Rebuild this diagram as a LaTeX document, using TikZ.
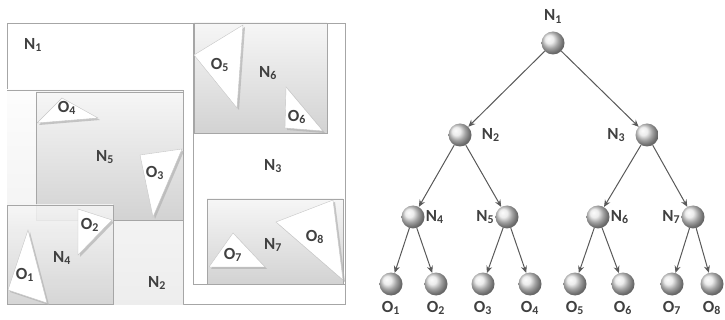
\documentclass[tikz,border=0pt]{standalone}
\usepackage{fontspec}
\setmainfont{Carlito}
\usetikzlibrary{arrows.meta,shadows}
\newcommand{\Rad}{11.5pt}
\newcommand{\Sub}[2]{#1\textsubscript{#2}}
\tikzset{
  Ball/.style={circle, minimum size=2*\Rad, inner sep=0pt, ball color=gray!20},
  Box/.style={draw=gray!70, line width=0.8pt, top color=gray!7, bottom color=gray!35},
  Tri/.style={fill=white, draw=gray!45, line width=0.4pt,
    drop shadow={shadow xshift=2pt, shadow yshift=-2pt, fill=gray!60, opacity=0.7}},
  Lbl/.style={font=\fontsize{17}{19}\bfseries, text=black!75, inner sep=0pt},
  Edge/.style={-{Stealth[length=7pt,width=6pt]}, draw=black!65, line width=1pt},
}
\begin{document}
\begin{tikzpicture}[x=1pt,y=-1pt]
  \useasboundingbox (0,0) rectangle (725,320);
  % space partition
  \draw[gray!70, line width=0.8pt] (7,23) rectangle (345,304);
  \fill[top color=gray!2, bottom color=gray!14] (7,90) rectangle (183,304);
  \draw[gray!70, line width=0.8pt] (7,90) -- (183,90) -- (183,304);
  \draw[gray!70, line width=0.8pt] (193,23) -- (193,284) -- (345,284);
  \draw[Box] (36,92) rectangle (183,220);
  \draw[Box, fill opacity=0.85] (7,205) rectangle (113,304);
  \draw[Box] (194,23) rectangle (327,133);
  \draw[Box] (207,199) rectangle (343,284);
  \draw[Tri] (37,123) -- (62,98) -- (98,118) -- cycle;
  \draw[Tri] (140,155) -- (182,149) -- (153,217) -- cycle;
  \draw[Tri] (194,55) -- (243,25) -- (237,108) -- cycle;
  \draw[Tri] (286,87) -- (285,128) -- (323,131) -- cycle;
  \draw[Tri] (276,222) -- (333,200) -- (343,280) -- cycle;
  \draw[Tri] (209,267) -- (233,233) -- (265,267) -- cycle;
  \draw[Tri] (78,209) -- (112,220) -- (78,255) -- cycle;
  \draw[Tri] (28,230) -- (8,290) -- (47,303) -- cycle;
  \node[Lbl] (rN1) at (33,45)   {\Sub N1};
  \node[Lbl] (rN2) at (157,283) {\Sub N2};
  \node[Lbl] (rN3) at (273,166) {\Sub N3};
  \node[Lbl] (rN4) at (62,258)  {\Sub N4};
  \node[Lbl] (rN5) at (105,157) {\Sub N5};
  \node[Lbl] (rN6) at (268,73)  {\Sub N6};
  \node[Lbl] (rN7) at (273,245) {\Sub N7};
  \node[Lbl] (rO1) at (25,275)  {\Sub O1};
  \node[Lbl] (rO2) at (90,225)  {\Sub O2};
  \node[Lbl] (rO3) at (155,173) {\Sub O3};
  \node[Lbl] (rO4) at (67,108)  {\Sub O4};
  \node[Lbl] (rO5) at (220,65)  {\Sub O5};
  \node[Lbl] (rO6) at (297,117) {\Sub O6};
  \node[Lbl] (rO7) at (233,255) {\Sub O7};
  \node[Lbl] (rO8) at (315,237) {\Sub O8};
  % tree
  \node[Ball, label={[Lbl,label distance=8pt]above:\Sub N1}] (n1) at (553,43) {};
  \node[Ball, label={[Lbl,label distance=10pt]right:\Sub N2}] (n2) at (460,135) {};
  \node[Ball, label={[Lbl,label distance=10pt]left:\Sub N3}] (n3) at (647,135) {};
  \node[Ball, label={[Lbl,label distance=1pt]right:\Sub N4}] (n4) at (413,217) {};
  \node[Ball, label={[Lbl,label distance=1pt]left:\Sub N5}] (n5) at (507,217) {};
  \node[Ball, label={[Lbl,label distance=1pt]right:\Sub N6}] (n6) at (598,217) {};
  \node[Ball, label={[Lbl,label distance=1pt]left:\Sub N7}] (n7) at (693,217) {};
  \foreach \i/\x in {1/391,2/436,3/483,4/530,5/575,6/623,7/672,8/712}
    \node[Ball, label={[Lbl,label distance=5pt]below:\Sub O\i}] (o\i) at (\x,284) {};
  \foreach \a/\b in {n1/n2,n1/n3,n2/n4,n2/n5,n3/n6,n3/n7,
                     n4/o1,n4/o2,n5/o3,n5/o4,n6/o5,n6/o6,n7/o7,n7/o8}
    \draw[Edge] (\a) -- (\b);
\end{tikzpicture}
\end{document}
